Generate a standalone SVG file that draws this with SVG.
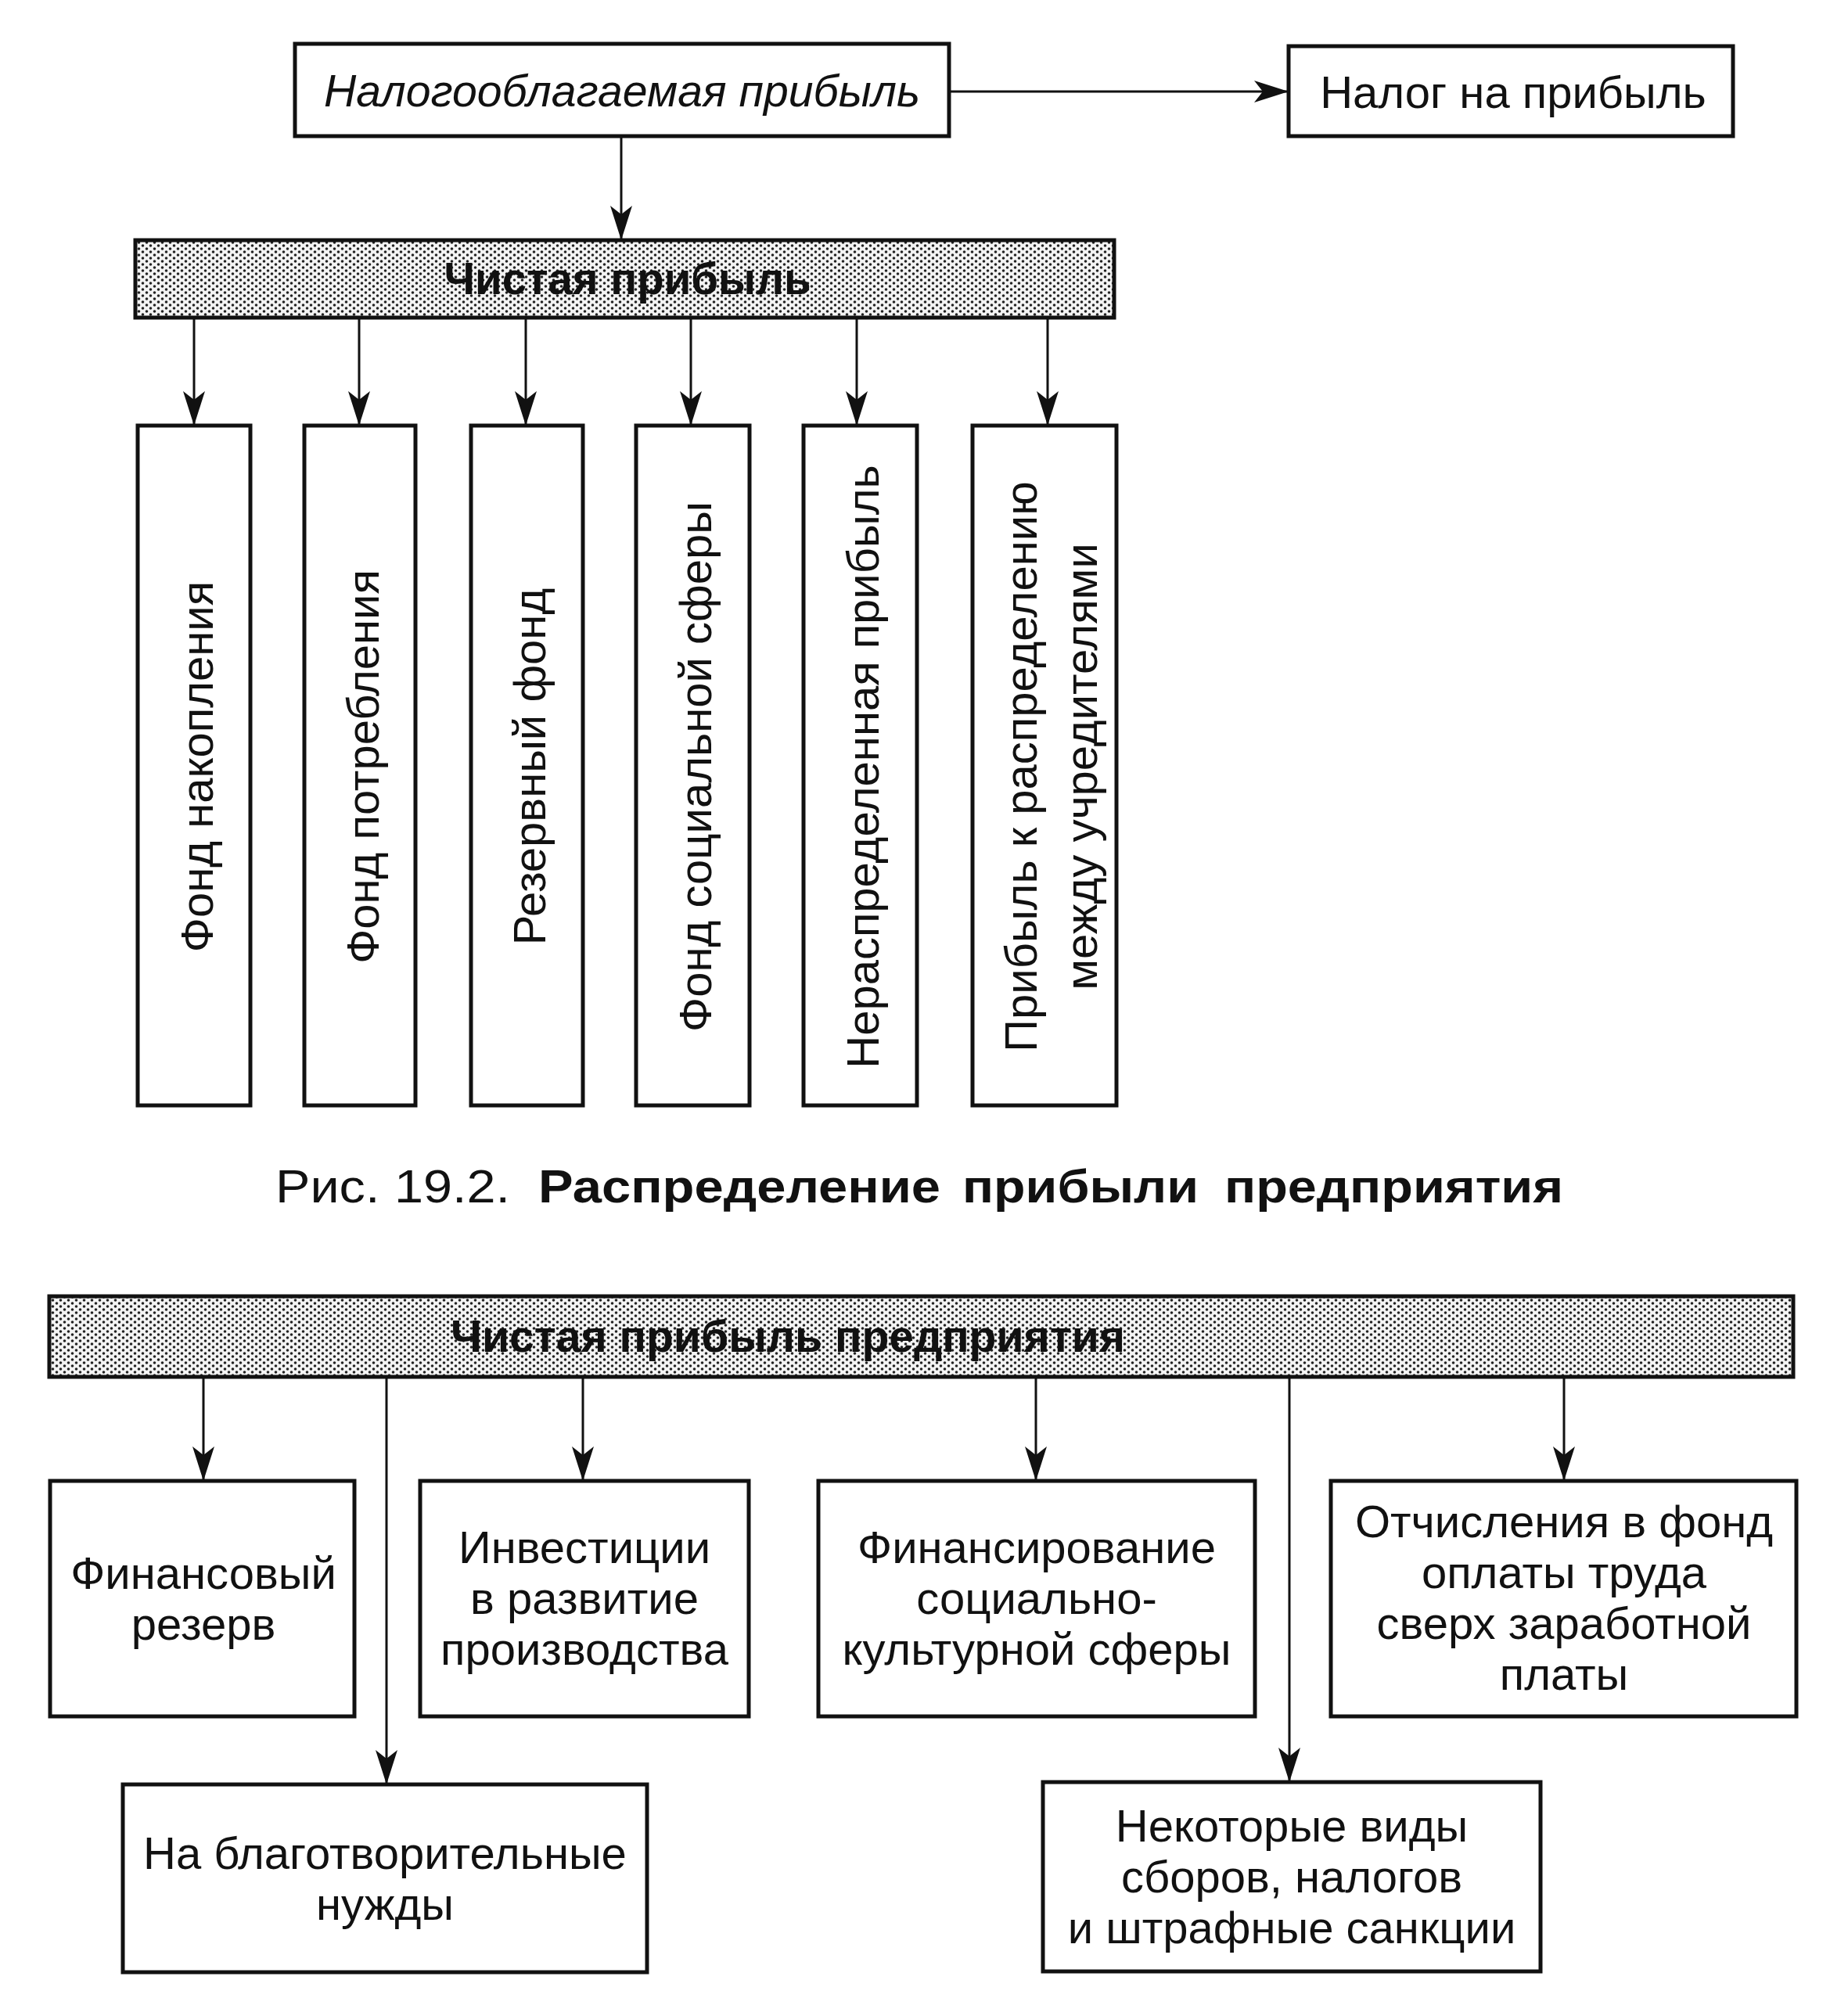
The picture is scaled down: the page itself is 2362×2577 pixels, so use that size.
<svg xmlns="http://www.w3.org/2000/svg" width="2362" height="2577" viewBox="0 0 2362 2577">
<defs>
<style>
.box{fill:#fff;stroke:#111;stroke-width:5}
.hatch{fill:url(#dots);stroke:#111;stroke-width:5}
.ln{fill:none;stroke:#111;stroke-width:3}
.t{font-family:"Liberation Sans",Arial,sans-serif;font-size:58px;fill:#111;text-anchor:middle}
.b{font-weight:bold}
.i{font-style:italic}
</style>
<pattern id="dots" width="10" height="8" patternUnits="userSpaceOnUse">
<rect width="10" height="8" fill="#f4f4f4"/>
<circle cx="2.5" cy="2" r="1.8" fill="#222"/>
<circle cx="7.5" cy="6" r="1.8" fill="#222"/>
</pattern>
<marker id="arr" markerUnits="userSpaceOnUse" viewBox="-44 -15 44 30" markerWidth="44" markerHeight="30" refX="0" refY="0" orient="auto">
<path d="M0,0 L-44,-14 L-33,0 L-44,14 Z" fill="#111"/>
</marker>
</defs>
<rect width="2362" height="2577" fill="#fff"/>

<g id="connectors">
<line class="ln" x1="1213" y1="117" x2="1647" y2="117" marker-end="url(#arr)"/>
<line class="ln" x1="794" y1="174" x2="794" y2="307" marker-end="url(#arr)"/>
<line class="ln" x1="248" y1="406" x2="248" y2="544" marker-end="url(#arr)"/>
<line class="ln" x1="459" y1="406" x2="459" y2="544" marker-end="url(#arr)"/>
<line class="ln" x1="672" y1="406" x2="672" y2="544" marker-end="url(#arr)"/>
<line class="ln" x1="883" y1="406" x2="883" y2="544" marker-end="url(#arr)"/>
<line class="ln" x1="1095" y1="406" x2="1095" y2="544" marker-end="url(#arr)"/>
<line class="ln" x1="1339" y1="406" x2="1339" y2="544" marker-end="url(#arr)"/>
<line class="ln" x1="260" y1="1760" x2="260" y2="1893" marker-end="url(#arr)"/>
<line class="ln" x1="494" y1="1760" x2="494" y2="2281" marker-end="url(#arr)"/>
<line class="ln" x1="745" y1="1760" x2="745" y2="1893" marker-end="url(#arr)"/>
<line class="ln" x1="1324" y1="1760" x2="1324" y2="1893" marker-end="url(#arr)"/>
<line class="ln" x1="1648" y1="1760" x2="1648" y2="2278" marker-end="url(#arr)"/>
<line class="ln" x1="1999" y1="1760" x2="1999" y2="1893" marker-end="url(#arr)"/>
</g>

<g id="taxable-profit">
<rect class="box" x="377" y="56" width="836" height="118"/>
<text class="t i" x="795" y="136" textLength="762" lengthAdjust="spacingAndGlyphs">Налогооблагаемая прибыль</text>
</g>
<g id="profit-tax">
<rect class="box" x="1647" y="59" width="568" height="115"/>
<text class="t" x="1934" y="138">Налог на прибыль</text>
</g>
<g id="net-profit">
<rect class="hatch" x="173" y="307" width="1251" height="99"/>
<text class="t b" x="802" y="376" textLength="469" lengthAdjust="spacingAndGlyphs">Чистая прибыль</text>
</g>

<g id="fund-accumulation">
<rect class="box" x="176" y="544" width="144" height="869"/>
<text class="t" transform="translate(251,980) rotate(-90)" x="0" y="21">Фонд накопления</text>
</g>
<g id="fund-consumption">
<rect class="box" x="389" y="544" width="142" height="869"/>
<text class="t" transform="translate(463,980) rotate(-90)" x="0" y="21">Фонд потребления</text>
</g>
<g id="reserve-fund">
<rect class="box" x="602" y="544" width="143" height="869"/>
<text class="t" transform="translate(676,980) rotate(-90)" x="0" y="21">Резервный фонд</text>
</g>
<g id="social-fund">
<rect class="box" x="813" y="544" width="145" height="869"/>
<text class="t" transform="translate(888,980) rotate(-90)" x="0" y="21">Фонд социальной сферы</text>
</g>
<g id="retained-profit">
<rect class="box" x="1027" y="544" width="145" height="869"/>
<text class="t" transform="translate(1102,980) rotate(-90)" x="0" y="21">Нераспределенная прибыль</text>
</g>
<g id="founders-profit">
<rect class="box" x="1243" y="544" width="184" height="869"/>
<text class="t" transform="translate(1304,980) rotate(-90)" x="0" y="21">Прибыль к распределению</text>
<text class="t" transform="translate(1381,980) rotate(-90)" x="0" y="21">между учредителями</text>
</g>

<g id="caption">
<text class="t" style="text-anchor:start;font-size:60px" x="352" y="1537" textLength="300" lengthAdjust="spacingAndGlyphs">Рис. 19.2.</text>
<text class="t b" style="text-anchor:start;font-size:60px" x="688" y="1537" textLength="514" lengthAdjust="spacingAndGlyphs">Распределение</text>
<text class="t b" style="text-anchor:start;font-size:60px" x="1230" y="1537" textLength="302" lengthAdjust="spacingAndGlyphs">прибыли</text>
<text class="t b" style="text-anchor:start;font-size:60px" x="1565" y="1537" textLength="433" lengthAdjust="spacingAndGlyphs">предприятия</text>
</g>

<g id="net-profit-enterprise">
<rect class="hatch" x="63" y="1657" width="2229" height="103"/>
<text class="t b" x="1007" y="1728" textLength="862" lengthAdjust="spacingAndGlyphs">Чистая прибыль предприятия</text>
</g>

<g id="financial-reserve">
<rect class="box" x="64" y="1893" width="389" height="301"/>
<text class="t" x="260" y="2031">Финансовый</text>
<text class="t" x="260" y="2096">резерв</text>
</g>
<g id="investments">
<rect class="box" x="537" y="1893" width="420" height="301"/>
<text class="t" x="747" y="1998">Инвестиции</text>
<text class="t" x="747" y="2063">в развитие</text>
<text class="t" x="747" y="2128">производства</text>
</g>
<g id="social-financing">
<rect class="box" x="1046" y="1893" width="558" height="301"/>
<text class="t" x="1325" y="1998">Финансирование</text>
<text class="t" x="1325" y="2063">социально-</text>
<text class="t" x="1325" y="2128">культурной сферы</text>
</g>
<g id="wage-fund">
<rect class="box" x="1701" y="1893" width="595" height="301"/>
<text class="t" x="1999" y="1965">Отчисления в фонд</text>
<text class="t" x="1999" y="2030">оплаты труда</text>
<text class="t" x="1999" y="2095">сверх заработной</text>
<text class="t" x="1999" y="2160">платы</text>
</g>
<g id="charity">
<rect class="box" x="157" y="2281" width="670" height="240"/>
<text class="t" x="492" y="2389">На благотворительные</text>
<text class="t" x="492" y="2454">нужды</text>
</g>
<g id="taxes-fines">
<rect class="box" x="1333" y="2278" width="636" height="242"/>
<text class="t" x="1651" y="2354">Некоторые виды</text>
<text class="t" x="1651" y="2419">сборов, налогов</text>
<text class="t" x="1651" y="2484">и штрафные санкции</text>
</g>
</svg>
